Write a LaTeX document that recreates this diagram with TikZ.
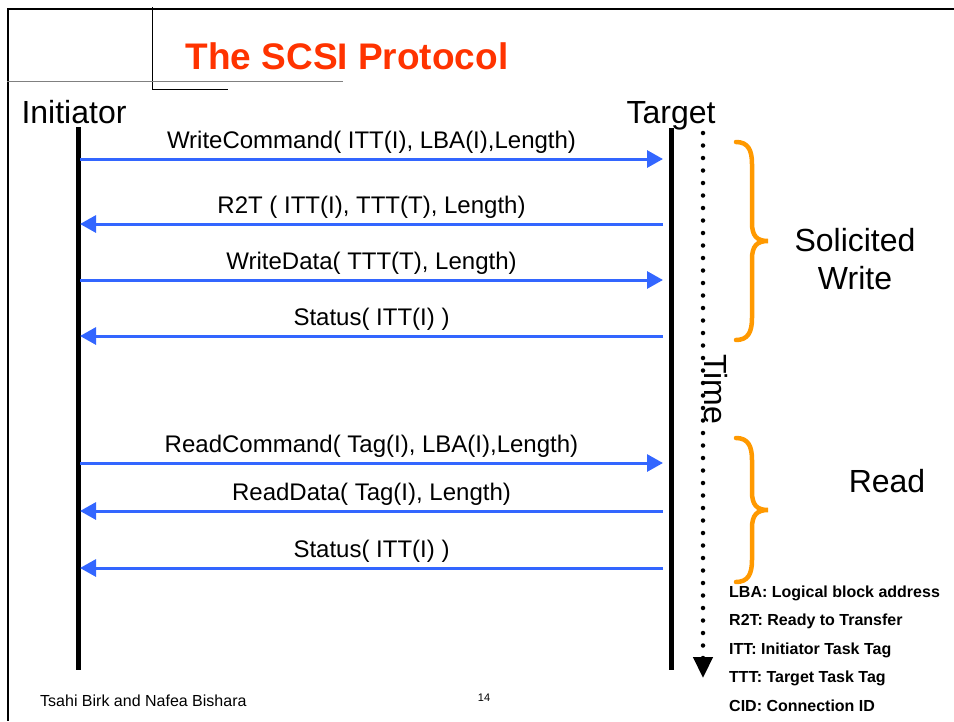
\documentclass[tikz,border=0pt]{standalone}
\usepackage{fontspec}
\setmainfont{Liberation Sans}
\usetikzlibrary{arrows.meta}
\definecolor{titlered}{RGB}{255,51,0}
\definecolor{msgblue}{RGB}{51,102,255}
\definecolor{braceorange}{RGB}{255,153,0}
% curly brace to the right of the time axis, from y=#1 down to y=#2
\newcommand{\groupbrace}[2]{%
    \pgfmathsetmacro\bmid{(#1+#2)/2}
    \draw[grp] (736,#1) .. controls (748,#1) and (752,#1+8) .. (752,#1+22) -- (752,\bmid-18)
        .. controls (752,\bmid-5) and (757,\bmid) .. (768,\bmid)
        .. controls (757,\bmid) and (752,\bmid+5) .. (752,\bmid+18) -- (752,#2-22)
        .. controls (752,#2-8) and (748,#2) .. (736,#2);
}

\begin{document}
\begin{tikzpicture}[x=1pt,y=-1pt,
        msg/.style={msgblue,line width=3pt,-{Triangle[length=16pt,width=17pt]}},
        msglbl/.style={anchor=base,yshift=11pt,inner sep=0pt,text=black,font=\fontsize{24}{26}\selectfont},
        grp/.style={braceorange,line width=4.5pt,line cap=round},
        big/.style={inner sep=0pt,font=\fontsize{32}{38}\selectfont},
        key/.style={anchor=base west,inner sep=0pt,font=\bfseries\fontsize{16}{18}\selectfont}]
        \useasboundingbox (0,0) rectangle (954,721);

        % slide frame
        \draw[line width=2.5pt] (954,9) -- (8,9) -- (8,721);
        \draw[line width=0.8pt] (152,7) -- (152,89) -- (228,89);
        \draw[gray,line width=0.8pt] (7,81) -- (343,81);
        \node[text=titlered,font=\bfseries\fontsize{37}{44}\selectfont] (title) at (347,56) {The SCSI Protocol};

        \node[big,anchor=base] (init) at (74,123) {Initiator};
        \node[big,anchor=base] (targ) at (671,123) {Target};
        \coordinate (itop) at (78,127);
        \coordinate (ibot) at (78,670);
        \coordinate (ttop) at (671,128);
        \coordinate (tbot) at (671,670);
        \draw[line width=5pt] (itop) -- (ibot);
        \draw[line width=5pt] (ttop) -- (tbot);

        \foreach \y/\a/\b/\txt in {159/i/t/{WriteCommand( ITT(I), LBA(I),Length)},
                224/t/i/{R2T ( ITT(I), TTT(T), Length)},
                280/i/t/{WriteData( TTT(T), Length)},
                336/t/i/{Status( ITT(I) )},
                463/i/t/{ReadCommand( Tag(I), LBA(I),Length)},
                511/t/i/{ReadData( Tag(I), Length)},
                568/t/i/{Status( ITT(I) )}}{
            \coordinate (i\y) at (80,\y);
            \coordinate (t\y) at (663,\y);
            \draw[msg] (\a\y) -- node[msglbl] {\txt} (\b\y);
        }

        % time axis
        \coordinate (time0) at (703,133);
        \coordinate (time1) at (703,678);
        \draw[line width=4.5pt,line cap=round,dash pattern=on 0pt off 12.5pt,-{Triangle[length=21pt,width=19pt]}] (time0) -- (time1);
        \node[big,rotate=-90] (time) at (716,389) {Time};

        \groupbrace{142}{340}
        \groupbrace{438}{582}
        \node[big,align=center] (solw) at (855,259) {Solicited\\Write};
        \node[big] (read) at (887,481) {Read};

        \foreach \t [count=\k] in {LBA: Logical block address,R2T: Ready to Transfer,ITT: Initiator Task Tag,TTT: Target Task Tag,CID: Connection ID}{
            \node[key] (key\k) at (729,{597+28.5*(\k-1)}) {\t};
        }

        \node[anchor=west,inner sep=0pt,font=\fontsize{16}{18}\selectfont] (auth) at (40,701) {Tsahi Birk and Nafea Bishara};
        \node[inner sep=0pt,font=\fontsize{11}{12}\selectfont] (page) at (484,698) {14};
    \end{tikzpicture}
\end{document}
